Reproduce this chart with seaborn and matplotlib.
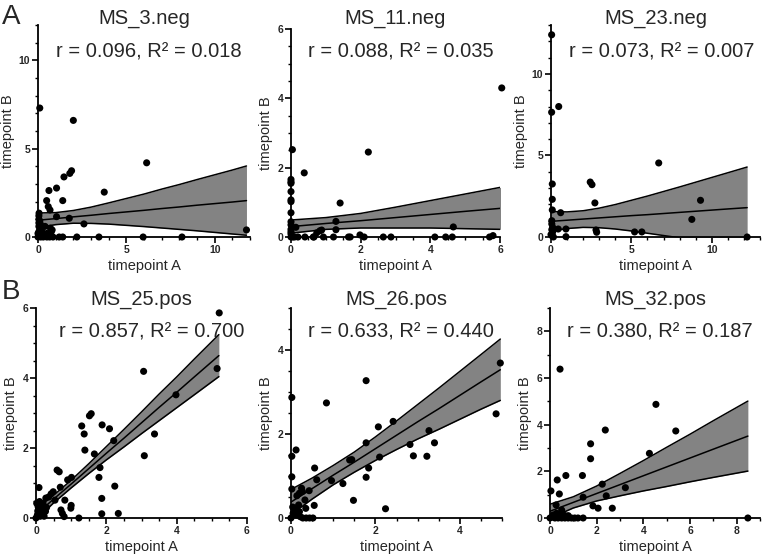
import matplotlib
matplotlib.use("Agg")
import matplotlib.pyplot as plt
import seaborn as sns
from matplotlib.ticker import MultipleLocator

# ---- data ---------------------------------------------------------------
titles = ["MS_3.neg", "MS_11.neg", "MS_23.neg", "MS_25.pos", "MS_26.pos", "MS_32.pos"]
stats = ["r = 0.096, R² = 0.018", "r = 0.088, R² = 0.035", "r = 0.073, R² = 0.007",
         "r = 0.857, R² = 0.700", "r = 0.633, R² = 0.440", "r = 0.380, R² = 0.187"]

ms3_a = [0.1, 2.0, 6.15, 1.9, 1.8, 1.47, 3.75, 1.05, 0.62, 0.49, 1.4, 0.58, 0.68, 0.06, 1.05, 1.77,
         2.6, 11.8, 0.8, 0.7, 0.75, 0.05, 0.05, 0.1, 0.05, 0.15, 0.05, 0.2, 0.1, 0.05, 0.25, 0.1,
         0.3, 0.0, 0.4, 0.5, 0.5, 0.66, 0.85, 1.2, 1.4, 2.2, 3.45, 5.95, 8.15, 0.3, 0.15, 0.0]
ms3_b = [7.3, 6.6, 4.2, 3.75, 3.6, 3.4, 2.54, 2.77, 2.63, 2.06, 2.06, 1.72, 1.53, 1.35, 1.15, 1.06,
         0.74, 0.4, 0.4, 0.5, 0.3, 1.2, 1.0, 0.9, 0.8, 0.7, 0.6, 0.5, 0.4, 0.3, 0.25, 0.15,
         0.1, 0.0, 0.6, 0.2, 0.0, 0.0, 0.0, 0.0, 0.0, 0.0, 0.0, 0.0, 0.0, 0.0, 0.0, 0.2]
ms3_bx = [0, 1, 2, 3, 4, 5, 6, 7, 8, 9, 10, 11, 11.8]
ms3_fit = [0.95, 1.04, 1.14, 1.23, 1.33, 1.42, 1.51, 1.61, 1.70, 1.80, 1.89, 1.98, 2.06]
ms3_lo = [0.54, 0.70, 0.78, 0.77, 0.73, 0.66, 0.59, 0.51, 0.43, 0.35, 0.26, 0.17, 0.10]
ms3_hi = [1.36, 1.38, 1.50, 1.69, 1.93, 2.18, 2.43, 2.71, 2.97, 3.25, 3.52, 3.79, 4.02]

ms11_a = [6.05, 2.22, 0.38, 1.41, 0.04, 0.0, 0.0, 0.0, 0.0, 0.0, 0.0, 0.0, 0.0, 0.0, 0.0, 0.0,
          0.0, 0.14, 1.29, 1.29, 0.83, 0.74, 0.88, 4.66, 5.8, 5.7, 0.4, 0.64, 0.93, 1.22, 1.65,
          1.7, 1.98, 2.1, 2.65, 2.87, 4.13, 4.44, 4.63, 0.05, 0.1, 0.2, 0.66, 0.0]
ms11_b = [4.3, 2.45, 1.85, 0.98, 2.52, 1.66, 1.59, 1.55, 1.31, 1.07, 1.02, 0.70, 0.44, 0.35, 0.22,
          0.15, 0.09, 0.28, 0.45, 0.21, 0.18, 0.12, 0.2, 0.29, 0.04, 0.0, 0.0, 0.0, 0.0, 0.0, 0.0,
          0.0, 0.06, 0.0, 0.0, 0.0, 0.0, 0.0, 0.0, 0.0, 0.0, 0.0, 0.0, 0.0]
ms11_bx = [0, 1, 2, 3, 4, 5, 6.05]
ms11_fit = [0.30, 0.39, 0.47, 0.56, 0.65, 0.74, 0.83]
ms11_lo = [0.11, 0.22, 0.26, 0.26, 0.26, 0.24, 0.22]
ms11_hi = [0.49, 0.56, 0.68, 0.86, 1.05, 1.24, 1.44]

ms23_a = [0.04, 0.04, 0.48, 6.7, 2.44, 2.55, 0.08, 0.08, 2.73, 9.3, 8.76, 0.6, 0.08, 0.45, 0.93,
          2.8, 2.84, 5.2, 5.65, 0.93, 12.2, 0.05, 0.05, 0.1, 0.05, 0.1, 0.0, 0.08, 0.15]
ms23_b = [12.4, 7.65, 8.0, 4.54, 3.37, 3.21, 3.25, 2.31, 2.09, 2.25, 1.08, 1.49, 1.66, 0.49, 0.49,
          0.43, 0.29, 0.31, 0.31, 0.02, 0.0, 1.0, 0.8, 0.6, 0.45, 0.3, 0.15, 0.06, 0.0]
ms23_bx = [0, 1, 2, 3, 4, 5, 6, 7, 8, 9, 10, 11, 12.2]
ms23_fit = [0.96, 1.03, 1.10, 1.17, 1.24, 1.31, 1.37, 1.44, 1.51, 1.58, 1.65, 1.72, 1.80]
ms23_lo = [0.36, 0.52, 0.59, 0.57, 0.49, 0.37, 0.23, 0.09, -0.05, -0.20, -0.35, -0.50, -0.69]
ms23_hi = [1.56, 1.54, 1.61, 1.77, 1.99, 2.25, 2.51, 2.79, 3.07, 3.36, 3.65, 3.94, 4.29]

ms25_a = [5.21, 5.15, 3.06, 3.98, 3.37, 3.08, 2.21, 2.09, 1.88, 1.57, 1.52, 1.3, 1.37, 1.39, 1.66,
          1.82, 1.79, 1.87, 1.87, 2.24, 2.34, 1.22, 1.01, 0.9, 0.6, 0.66, 0.99, 1.0, 0.71, 0.75,
          0.8, 0.82, 0.69, 0.085, 0.43, 0.36, 0.28, 0.54, 0.49, 0.02, 0.06, 0.1, 0.14, 0.18, 0.04,
          0.12, 0.23, 0.0, 0.27, 0.1, 0.15, 0.2, 0.05, 0.3]
ms25_b = [5.86, 4.27, 4.19, 3.52, 2.4, 1.78, 2.21, 2.55, 2.66, 2.98, 2.92, 2.63, 2.4, 1.94, 1.83,
          1.44, 1.16, 0.56, 0.12, 0.91, 0.13, 0.0, 1.16, 1.09, 1.37, 1.32, 0.28, 0.36, 0.23, 0.13,
          0.04, 0.51, 0.88, 0.87, 0.69, 0.6, 0.57, 0.51, 0.75, 0.42, 0.33, 0.23, 0.38, 0.19, 0.09,
          0.05, 0.05, 0.0, 0.19, 0.47, 0.3, 0.42, 0.2, 0.3]
ms25_bx = [0.02, 0.5, 1, 1.5, 2, 2.5, 3, 3.5, 4, 4.5, 5.2]
ms25_fit = [0.12, 0.54, 0.97, 1.41, 1.85, 2.28, 2.72, 3.16, 3.59, 4.03, 4.64]
ms25_lo = [-0.03, 0.43, 0.86, 1.27, 1.66, 2.03, 2.41, 2.78, 3.15, 3.52, 4.04]
ms25_hi = [0.27, 0.65, 1.08, 1.55, 2.04, 2.53, 3.03, 3.54, 4.03, 4.54, 5.24]

ms26_a = [4.96, 4.86, 1.78, 0.84, 0.02, 0.02, 0.02, 0.02, 0.12, 2.07, 2.42, 1.78, 2.1, 2.82, 2.9,
          3.27, 3.22, 3.4, 1.44, 1.39, 1.84, 1.78, 1.23, 0.96, 0.61, 0.56, 0.55, 1.48, 2.24, 0.25,
          0.27, 0.2, 0.14, 0.43, 0.33, 0.04, 0.1, 0.05, 0.13, 0.2, 0.0, 0.22, 0.28, 0.36, 0.44,
          0.52, 0.35, 0.18]
ms26_b = [3.69, 2.48, 3.27, 2.74, 2.87, 1.47, 0.98, 0.69, 1.62, 2.17, 2.3, 1.79, 1.45, 1.75, 1.48,
          2.08, 1.47, 1.79, 1.39, 1.38, 1.19, 0.97, 0.82, 0.89, 0.91, 1.19, 0.3, 0.42, 0.22, 0.71,
          0.63, 0.59, 0.53, 0.65, 0.43, 0.26, 0.21, 0.11, 0.07, 0.15, 0.0, 0.03, 0.0, 0.0, 0.0,
          0.0, 0.23, 0.31]
ms26_bx = [0, 0.5, 1, 1.5, 2, 2.5, 3, 3.5, 4, 4.5, 4.96]
ms26_fit = [0.38, 0.70, 1.02, 1.33, 1.65, 1.97, 2.29, 2.60, 2.92, 3.24, 3.53]
ms26_lo = [0.08, 0.45, 0.79, 1.09, 1.37, 1.63, 1.88, 2.11, 2.35, 2.59, 2.80]
ms26_hi = [0.68, 0.95, 1.25, 1.57, 1.93, 2.31, 2.70, 3.09, 3.49, 3.89, 4.26]

ms32_a = [0.43, 4.54, 5.39, 2.37, 1.74, 1.74, 4.26, 0.31, 0.68, 1.39, 0.04, 0.4, 2.24, 3.23, 1.42,
          2.41, 1.84, 2.06, 2.67, 0.26, 0.5, 0.14, 8.48, 0.0, 0.21, 0.35, 0.5, 0.64, 0.78, 0.92,
          1.06, 1.2, 1.42, 0.43, 0.64, 0.28, 0.78, 0.1, 0.55]
ms32_b = [6.38, 4.87, 3.73, 3.77, 3.18, 2.54, 2.77, 1.63, 1.82, 1.82, 1.16, 1.03, 1.45, 1.30, 0.89,
          0.95, 0.52, 0.42, 0.42, 0.56, 0.34, 0.13, 0.0, 0.0, 0.0, 0.0, 0.0, 0.0, 0.0, 0.0,
          0.0, 0.0, 0.0, 0.04, 0.1, 0.2, 0.1, 0.05, 0.15]
ms32_bx = [0, 1, 2, 3, 4, 5, 6, 7, 8.48]
ms32_fit = [0.29, 0.67, 1.05, 1.43, 1.81, 2.19, 2.57, 2.95, 3.51]
ms32_lo = [-0.01, 0.43, 0.73, 0.95, 1.16, 1.35, 1.55, 1.74, 2.01]
ms32_hi = [0.59, 0.91, 1.37, 1.91, 2.46, 3.03, 3.59, 4.17, 5.01]

# ---- layout (pixel boxes: left, top, right, bottom) -----------------------
W, H = 762, 557
boxes = [(38, 25, 250, 237), (291, 29, 500, 237), (551, 25, 760, 237),
         (36, 308, 247, 518), (291, 308, 502, 518), (550, 308, 760, 518)]
limits = [(12, 12), (6, 6), (13, 13), (6, 6), (5, 5), (9, 9)]
major = [5, 2, 5, 2, 2, 2]
minor = [1, 0.5, 1, 0.5, 0.5, 1]
stat_right = [242, 494, 754, 244, 494, 753]

sns.set_style("ticks")
plt.rcParams['font.family'] = ['Liberation Sans', 'DejaVu Sans']

panels = [
    (ms3_a, ms3_b, ms3_bx, ms3_fit, ms3_lo, ms3_hi),
    (ms11_a, ms11_b, ms11_bx, ms11_fit, ms11_lo, ms11_hi),
    (ms23_a, ms23_b, ms23_bx, ms23_fit, ms23_lo, ms23_hi),
    (ms25_a, ms25_b, ms25_bx, ms25_fit, ms25_lo, ms25_hi),
    (ms26_a, ms26_b, ms26_bx, ms26_fit, ms26_lo, ms26_hi),
    (ms32_a, ms32_b, ms32_bx, ms32_fit, ms32_lo, ms32_hi),
]

fig = plt.figure(figsize=(W / 100, H / 100), dpi=100)

for i, (a, b, bx, fit, lo, hi) in enumerate(panels):
    l, t, r, btm = boxes[i]
    ax = fig.add_axes([l / W, 1 - btm / H, (r - l) / W, (btm - t) / H])
    # confidence band + fit line
    ax.fill_between(bx, lo, hi, color='#838383', lw=0, zorder=1)
    for s in (lo, fit, hi):
        ax.plot(bx, s, color='black', lw=1.1, zorder=2)
    sns.scatterplot(x=a, y=b, ax=ax, color='black', s=26, edgecolor='none',
                    zorder=3, clip_on=False, legend=False)
    ax.set_xlim(0, limits[i][0])
    ax.set_ylim(0, limits[i][1])
    ax.xaxis.set_major_locator(MultipleLocator(major[i]))
    ax.yaxis.set_major_locator(MultipleLocator(major[i]))
    ax.xaxis.set_minor_locator(MultipleLocator(minor[i]))
    ax.yaxis.set_minor_locator(MultipleLocator(minor[i]))
    sns.despine(ax=ax)
    for sp in ('left', 'bottom'):
        ax.spines[sp].set_linewidth(1.3)
        ax.spines[sp].set_color('black')
    ax.tick_params(which='major', length=4, width=1.2, labelsize=7.5, pad=1.5, color='black')
    ax.tick_params(which='minor', length=2.5, width=1.0, color='black')
    for lab in ax.get_xticklabels() + ax.get_yticklabels():
        lab.set_fontweight('bold')
    ax.set_xlabel('timepoint A', fontsize=10.5, labelpad=3)
    ax.set_ylabel('timepoint B', fontsize=10.5, labelpad=3)

    cx = (l + r) / 2
    ty = 24 if i < 3 else 305
    fig.text(cx / W, 1 - ty / H, titles[i], ha='center', va='baseline', fontsize=14.5)
    sy = 57 if i < 3 else 337
    fig.text(stat_right[i] / W, 1 - sy / H, stats[i], ha='right', va='baseline', fontsize=14.5)

fig.text(2 / W, 1 - 24 / H, 'A', fontsize=20, va='baseline')
fig.text(2 / W, 1 - 299 / H, 'B', fontsize=20, va='baseline')

fig.savefig('out.png', dpi=100)
